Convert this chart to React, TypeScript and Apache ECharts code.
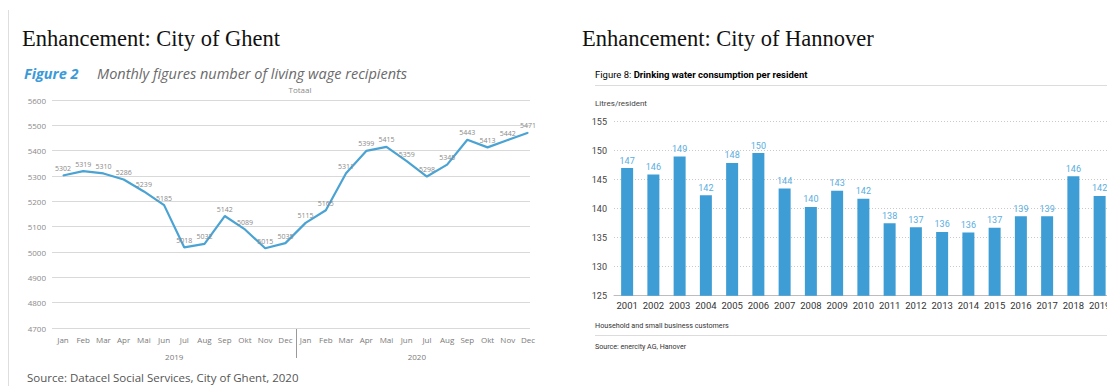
import React, { useEffect, useRef } from "react";
import * as echarts from "echarts";

// ---------- Ghent data ----------
const months = ["Jan", "Feb", "Mar", "Apr", "Mai", "Jun", "Jul", "Aug", "Sep", "Okt", "Nov", "Dec"];
const years = ["2019", "2020"];
const recipients2019 = [5302, 5319, 5310, 5286, 5239, 5185, 5018, 5032, 5142, 5089, 5015, 5035];
const recipients2020 = [5115, 5165, 5311, 5399, 5415, 5359, 5298, 5345, 5443, 5413, 5442, 5471];
const ghentMin = 4700;
const ghentMax = 5600;
const ghentStep = 100;

// ---------- Hannover data ----------
const hannoverYears = [
  "2001", "2002", "2003", "2004", "2005", "2006", "2007", "2008", "2009", "2010",
  "2011", "2012", "2013", "2014", "2015", "2016", "2017", "2018", "2019",
];
const waterPerResident = [
  147.0, 145.9, 149.0, 142.3, 147.9, 149.6, 143.5, 140.3, 143.1, 141.7,
  137.5, 136.8, 136.0, 135.9, 136.7, 138.7, 138.7, 145.6, 142.2,
];
const waterMin = 125;
const waterMax = 155;
const waterStep = 5;

const W = 1107;
const CW = 1125; // canvas is wider than the window so the last bar/label is cut like the reference
const H = 386;
const SANS_L = "'Open Sans', 'Noto Sans', sans-serif";
const SANS_R = "Roboto, 'Noto Sans', sans-serif";
const SERIF = "'Liberation Serif', 'Times New Roman', serif";

export default function App() {
  const ref = useRef<HTMLDivElement>(null);

  useEffect(() => {
    if (!ref.current) return;
    const chart = echarts.init(ref.current, null, { renderer: "svg" });

    const monthCats: string[] = [];
    years.forEach((y) => months.forEach((m) => monthCats.push(m + " " + y)));
    const recipients = [...recipients2019, ...recipients2020];

    const staticGraphics: any[] = [
      { type: "line", shape: { x1: 8.5, y1: 10, x2: 8.5, y2: H }, style: { stroke: "#dedede", lineWidth: 1 } },
      {
        type: "text", x: 22, y: 38,
        style: { text: "Enhancement: City of Ghent", font: `22.5px ${SERIF}`, fill: "#111", textVerticalAlign: "middle" },
      },
      {
        type: "text", x: 582, y: 38,
        style: { text: "Enhancement: City of Hannover", font: `22.5px ${SERIF}`, fill: "#111", textVerticalAlign: "middle" },
      },
      {
        type: "text", x: 24, y: 73,
        style: { text: "Figure 2", font: `italic bold 14.5px ${SANS_L}`, fill: "#3b9ad8", textVerticalAlign: "middle" },
      },
      {
        type: "text", x: 97, y: 73,
        style: { text: "Monthly figures number of living wage recipients", font: `italic 14.5px ${SANS_L}`, fill: "#6a6a6a", textVerticalAlign: "middle" },
      },
      {
        type: "text", x: 300, y: 89,
        style: { text: "Totaal", font: `8px ${SANS_L}`, fill: "#8a8a8a", textAlign: "center", textVerticalAlign: "middle" },
      },
      {
        type: "text", x: 27, y: 377,
        style: { text: "Source: Datacel Social Services, City of Ghent, 2020", font: `11.5px ${SANS_L}`, fill: "#555", textVerticalAlign: "middle" },
      },
      {
        type: "text", x: 595, y: 74,
        style: {
          text: "{a|Figure 8: }{b|Drinking water consumption per resident}",
          textVerticalAlign: "middle",
          rich: {
            a: { fontFamily: SANS_R, fontSize: 9.5, color: "#222" },
            b: { fontFamily: SANS_R, fontSize: 9.5, fontWeight: "bold", color: "#111" },
          },
        },
      },
      { type: "line", shape: { x1: 595, y1: 85.5, x2: CW, y2: 85.5 }, style: { stroke: "#dcdcdc", lineWidth: 1 } },
      {
        type: "text", x: 595, y: 103,
        style: { text: "Litres/resident", font: `8px ${SANS_R}`, fill: "#444", textVerticalAlign: "middle" },
      },
      {
        type: "text", x: 595, y: 325,
        style: { text: "Household and small business customers", font: `7.2px ${SANS_R}`, fill: "#333", textVerticalAlign: "middle" },
      },
      { type: "line", shape: { x1: 595, y1: 335.5, x2: CW, y2: 335.5 }, style: { stroke: "#dcdcdc", lineWidth: 1 } },
      {
        type: "text", x: 595, y: 346,
        style: { text: "Source: enercity AG, Hanover", font: `7.1px ${SANS_R}`, fill: "#333", textVerticalAlign: "middle" },
      },
    ];

    chart.setOption({
      animation: false,
      backgroundColor: "#fff",
      grid: [
        { left: 52, width: 478, top: 100, height: 228 },
        { left: 63, width: 465, top: 100, height: 228 },
        { left: 614, width: 498.75, top: 121.7, height: 174 },
      ],
      xAxis: [
        { gridIndex: 0, type: "category", data: years, show: false },
        {
          gridIndex: 1, type: "category", data: monthCats, boundaryGap: false,
          axisLine: { show: false }, axisTick: { show: false },
          axisLabel: {
            interval: 0, margin: 7, fontSize: 8, color: "#7a7a7a", fontFamily: SANS_L,
            formatter: (v: string) => v.split(" ")[0],
          },
        },
        {
          gridIndex: 2, type: "category", data: hannoverYears,
          axisLine: { lineStyle: { color: "#bdbdbd", width: 1 } }, axisTick: { show: false },
          axisLabel: { interval: 0, margin: 5, fontSize: 9.5, color: "#333", fontFamily: SANS_R },
        },
      ],
      yAxis: [
        {
          gridIndex: 0, type: "value", min: ghentMin, max: ghentMax, interval: ghentStep,
          axisLine: { show: false }, axisTick: { show: false },
          axisLabel: { margin: 6, fontSize: 8, color: "#8a8a8a", fontFamily: SANS_L, formatter: (v: number) => String(v) },
          splitLine: { lineStyle: { color: "#d9d9d9", width: 1 } },
        },
        { gridIndex: 1, type: "value", min: ghentMin, max: ghentMax, show: false, splitLine: { show: false } },
        {
          gridIndex: 2, type: "value", min: waterMin, max: waterMax, interval: waterStep,
          axisLine: { show: false }, axisTick: { show: false },
          axisLabel: { margin: 7, fontSize: 9, color: "#444", fontFamily: SANS_R, formatter: (v: number) => String(v) },
          splitLine: { lineStyle: { color: "#c9c9c9", width: 1, type: [1, 2] } },
        },
      ],
      series: [
        {
          type: "line", xAxisIndex: 1, yAxisIndex: 1, data: recipients,
          symbol: "circle", symbolSize: 1,
          itemStyle: { color: "#4aa3d3" },
          lineStyle: { color: "#4aa3d3", width: 2.2 },
          label: { show: true, position: "top", distance: 3, fontSize: 7, color: "#8a8a8a", fontFamily: SANS_L },
        },
        {
          type: "bar", xAxisIndex: 2, yAxisIndex: 2, data: waterPerResident, barWidth: 12,
          itemStyle: { color: "#3e9dd4" },
          label: {
            show: true, position: "top", distance: 3, fontSize: 9, color: "#5aaee0", fontFamily: SANS_R,
            formatter: (p: any) => String(Math.round(p.value)),
          },
        },
      ],
      graphic: staticGraphics,
    });

    // Year labels and year separator, placed from the axis scale
    const pDec = chart.convertToPixel({ gridIndex: 1 }, [11, ghentMin]) as number[];
    const pJan = chart.convertToPixel({ gridIndex: 1 }, [12, ghentMin]) as number[];
    const pFirst = chart.convertToPixel({ gridIndex: 1 }, [0, ghentMin]) as number[];
    const pLast = chart.convertToPixel({ gridIndex: 1 }, [23, ghentMin]) as number[];
    const sepX = Math.round((pDec[0] + pJan[0]) / 2) + 0.5;
    const yearGraphics: any[] = [
      { type: "line", shape: { x1: sepX, y1: pDec[1], x2: sepX, y2: pDec[1] + 30 }, style: { stroke: "#9a9a9a", lineWidth: 1 } },
      {
        type: "text", x: (pFirst[0] + pDec[0]) / 2, y: pDec[1] + 28,
        style: { text: years[0], font: `8px ${SANS_L}`, fill: "#7a7a7a", textAlign: "center", textVerticalAlign: "middle" },
      },
      {
        type: "text", x: (pJan[0] + pLast[0]) / 2, y: pDec[1] + 28,
        style: { text: years[1], font: `8px ${SANS_L}`, fill: "#7a7a7a", textAlign: "center", textVerticalAlign: "middle" },
      },
    ];
    chart.setOption({ graphic: [...staticGraphics, ...yearGraphics] });

    return () => chart.dispose();
  }, []);

  return (
    <div style={{ position: "fixed", left: 0, top: 0, width: W, height: H, overflow: "hidden", background: "#fff" }}>
      <div ref={ref} style={{ width: CW, height: H }} />
    </div>
  );
}
